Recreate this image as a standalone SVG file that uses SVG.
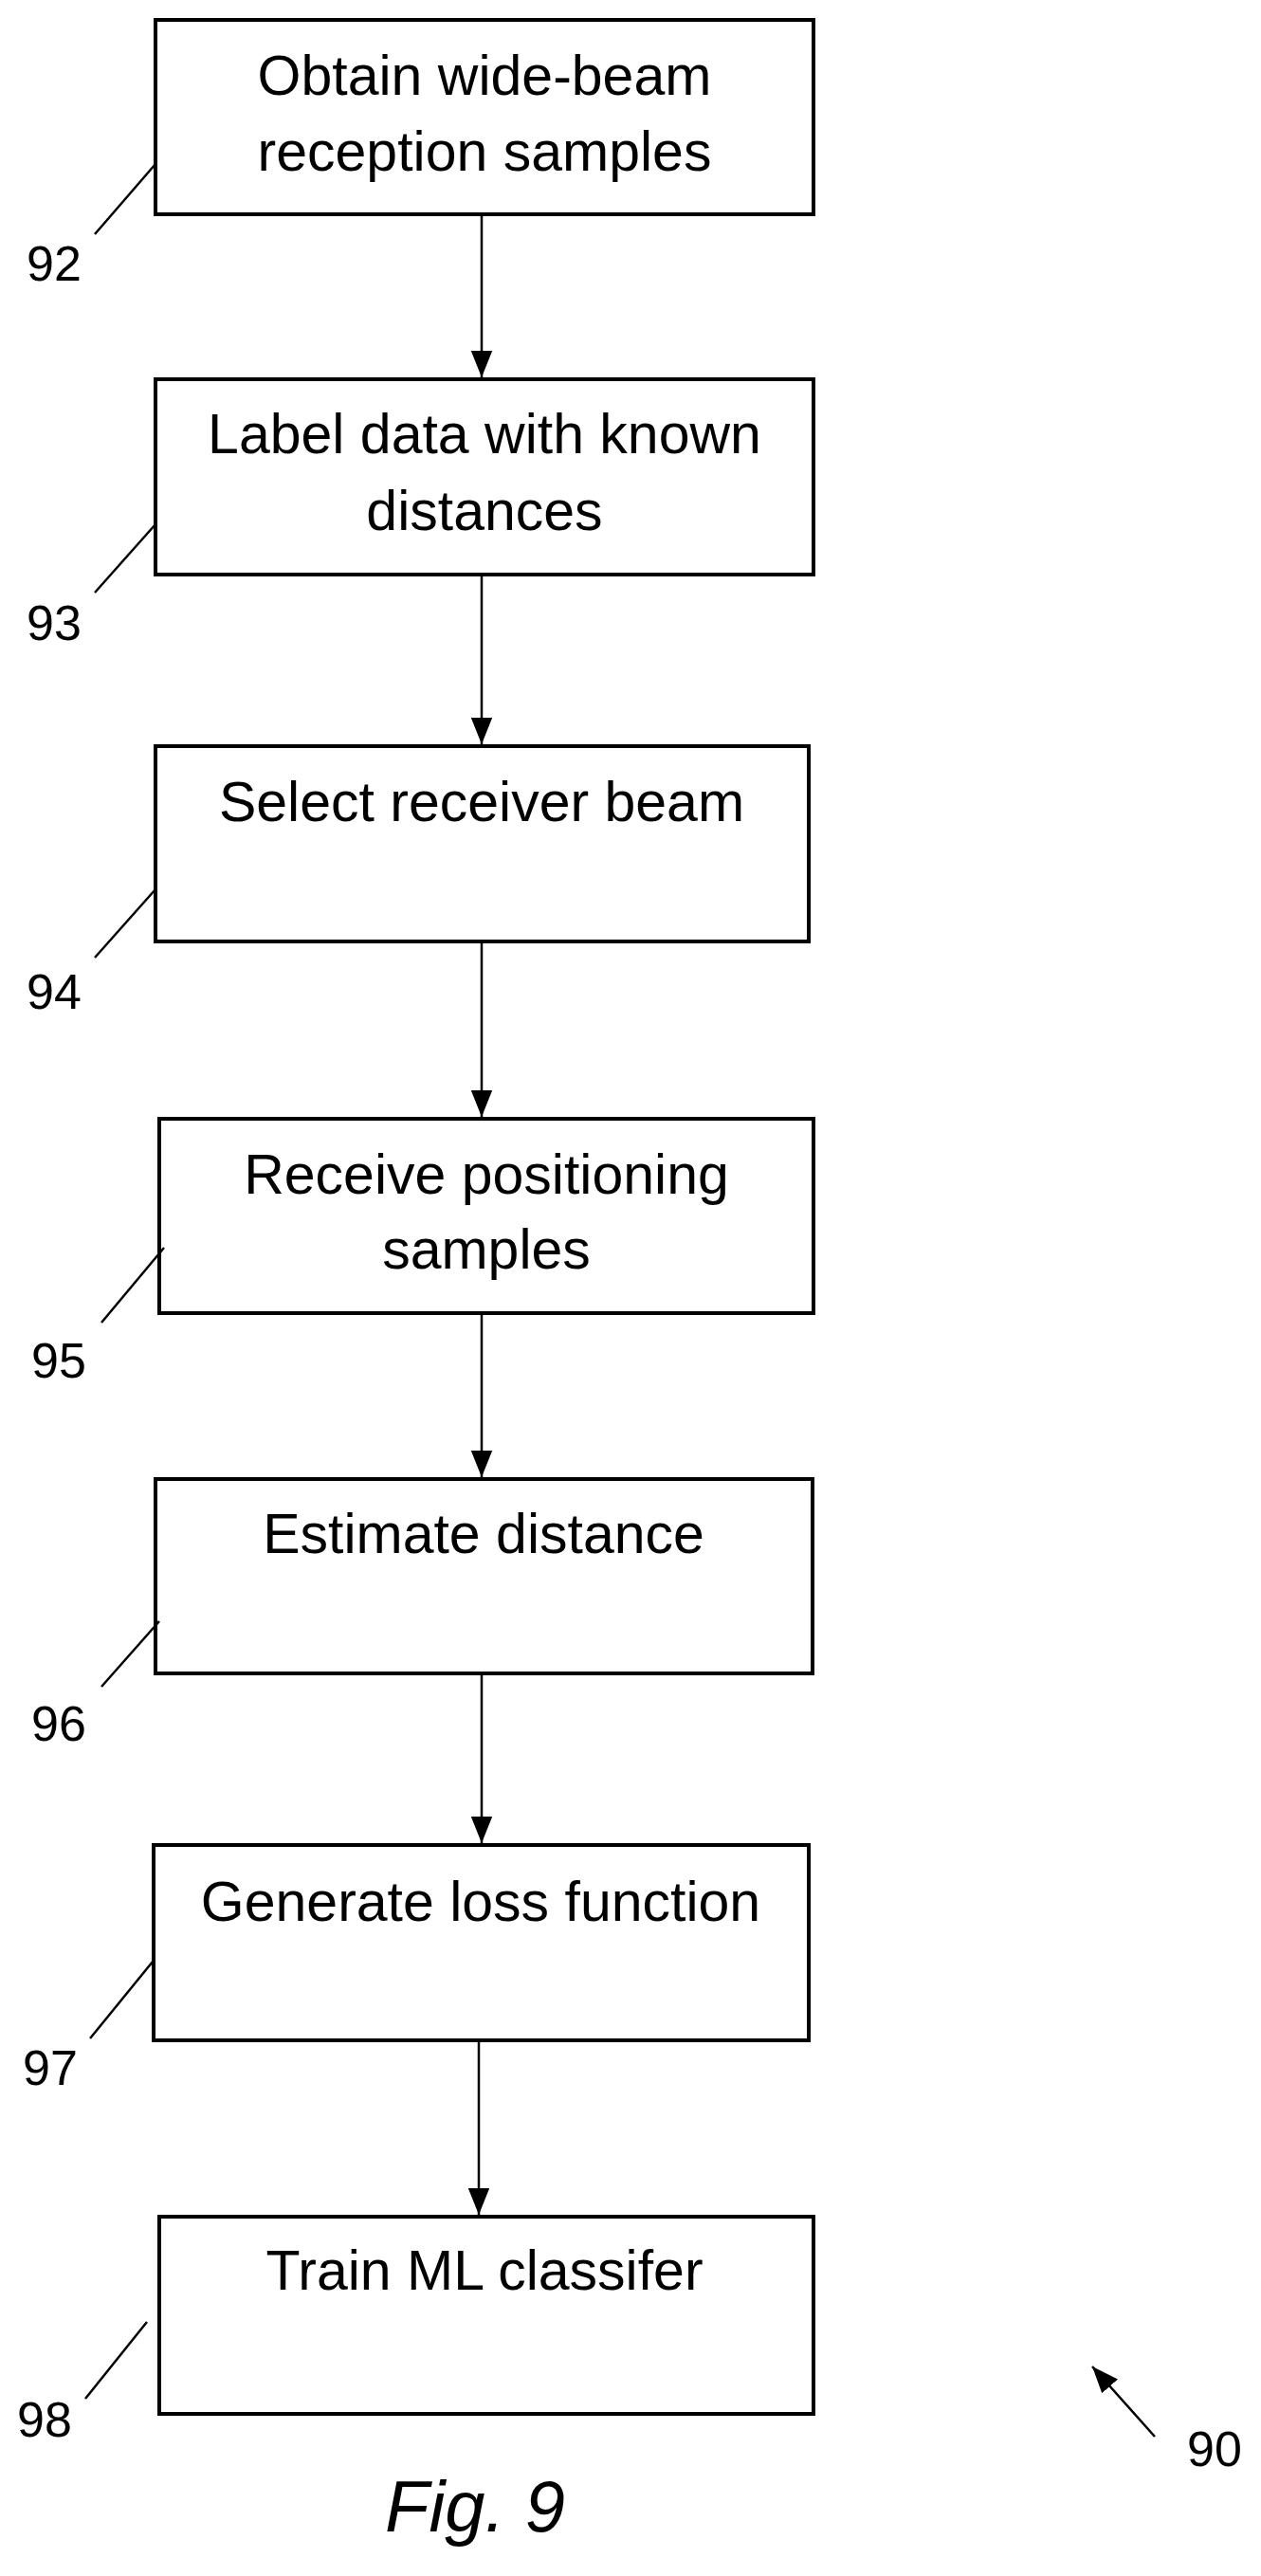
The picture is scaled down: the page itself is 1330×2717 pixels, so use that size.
<svg xmlns="http://www.w3.org/2000/svg" width="1330" height="2717" viewBox="0 0 1330 2717">
<style>
.box{fill:#fff;stroke:#000;stroke-width:4}
.t{font-family:"Liberation Sans",Arial,sans-serif;font-size:59px;text-anchor:middle;fill:#000}
.lb{font-family:"Liberation Sans",Arial,sans-serif;font-size:52px;fill:#000}
.ld{stroke:#000;stroke-width:2.5;fill:none}
</style>
<defs>
<marker id="ah2" viewBox="0 0 10 10" refX="10" refY="5" markerWidth="28" markerHeight="28" markerUnits="userSpaceOnUse" orient="auto"><path d="M0,1 L10,5 L0,9 z" fill="#000"/></marker>
</defs>
<rect width="1330" height="2717" fill="#fff"/>
<g id="connectors">
<line class="ld" x1="508" y1="226" x2="508" y2="398" style="marker-end:url(#ah2)"/>
<line class="ld" x1="508" y1="606" x2="508" y2="785" style="marker-end:url(#ah2)"/>
<line class="ld" x1="508" y1="993" x2="508" y2="1178" style="marker-end:url(#ah2)"/>
<line class="ld" x1="508" y1="1385" x2="508" y2="1558" style="marker-end:url(#ah2)"/>
<line class="ld" x1="508" y1="1765" x2="508" y2="1944" style="marker-end:url(#ah2)"/>
<line class="ld" x1="505" y1="2152" x2="505" y2="2336" style="marker-end:url(#ah2)"/>
<line class="ld" x1="1218" y1="2570" x2="1152" y2="2496" style="marker-end:url(#ah2)"/>
</g>
<g id="n92"><rect class="box" x="164" y="21" width="694" height="205"/><text class="t" x="511" y="100">Obtain wide-beam</text><text class="t" x="511" y="180">reception samples</text><line class="ld" x1="100" y1="247" x2="164" y2="173"/><text class="lb" x="28" y="296">92</text></g>
<g id="n93"><rect class="box" x="164" y="400" width="694" height="206"/><text class="t" x="511" y="478">Label data with known</text><text class="t" x="511" y="559">distances</text><line class="ld" x1="100" y1="625" x2="164" y2="553"/><text class="lb" x="28" y="675">93</text></g>
<g id="n94"><rect class="box" x="164" y="787" width="689" height="206"/><text class="t" x="508" y="866">Select receiver beam</text><line class="ld" x1="100" y1="1010" x2="164" y2="938"/><text class="lb" x="28" y="1064">94</text></g>
<g id="n95"><rect class="box" x="168" y="1180" width="690" height="205"/><text class="t" x="513" y="1259">Receive positioning</text><text class="t" x="513" y="1338">samples</text><line class="ld" x1="107" y1="1395" x2="173" y2="1316"/><text class="lb" x="33" y="1453">95</text></g>
<g id="n96"><rect class="box" x="164" y="1560" width="693" height="205"/><text class="t" x="510" y="1638">Estimate distance</text><line class="ld" x1="107" y1="1779" x2="168" y2="1710"/><text class="lb" x="33" y="1836">96</text></g>
<g id="n97"><rect class="box" x="162" y="1946" width="691" height="206"/><text class="t" x="507" y="2026">Generate loss function</text><line class="ld" x1="95" y1="2150" x2="161" y2="2069"/><text class="lb" x="24" y="2199">97</text></g>
<g id="n98"><rect class="box" x="168" y="2338" width="690" height="208"/><text class="t" x="511" y="2415">Train ML classifer</text><line class="ld" x1="90" y1="2530" x2="155" y2="2449"/><text class="lb" x="18" y="2570">98</text></g>
<text class="lb" x="1252" y="2601">90</text>
<text x="501" y="2670" font-family="Liberation Sans,Arial,sans-serif" font-style="italic" font-size="76" text-anchor="middle">Fig. 9</text>
</svg>
